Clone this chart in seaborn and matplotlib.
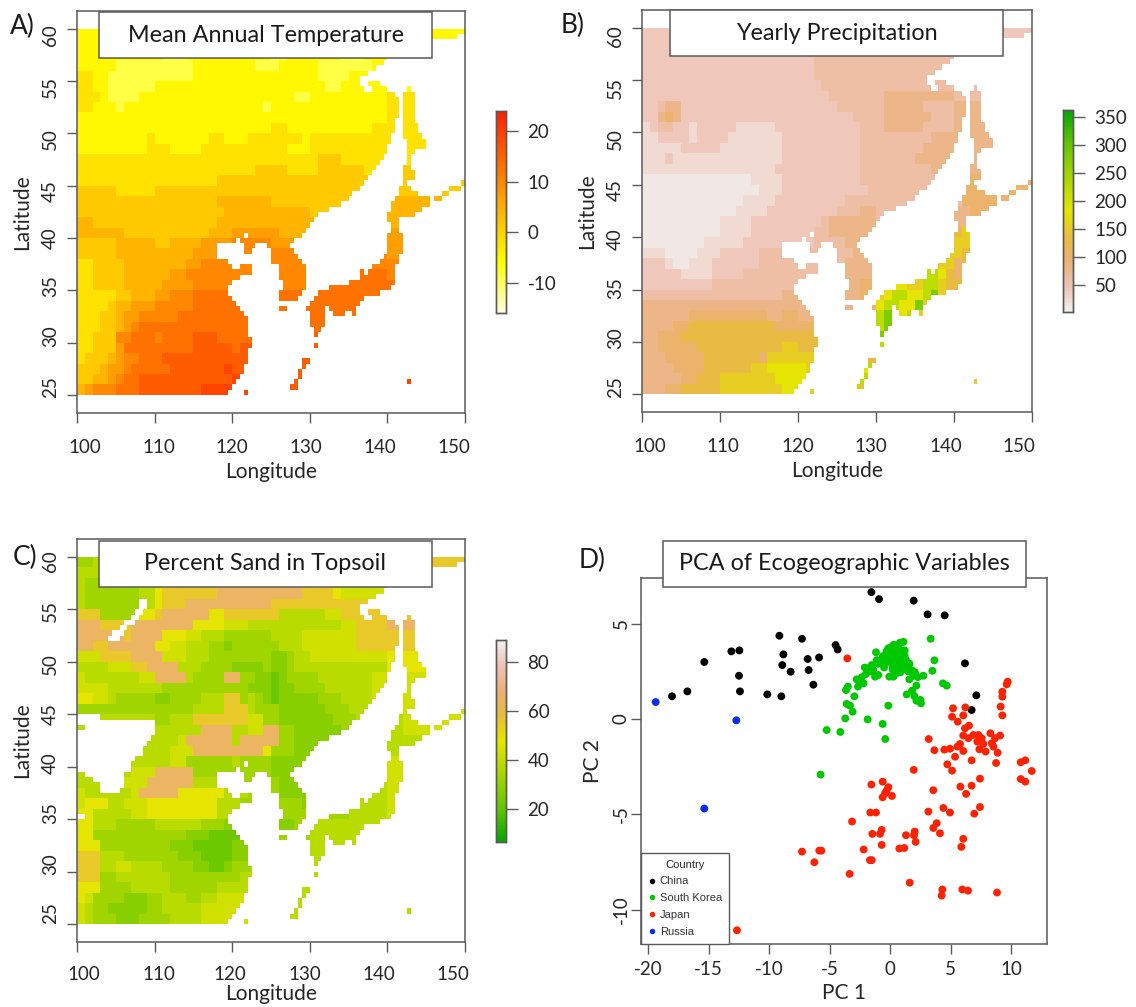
import numpy as np
import pandas as pd
import seaborn as sns
import matplotlib.pyplot as plt
from matplotlib.colors import LinearSegmentedColormap
from matplotlib.patches import Rectangle
from matplotlib.transforms import ScaledTranslation

W, H = 1136, 1007

# one string per 1 degree of latitude (59 down to 25), one char per degree of longitude (100..149)
temp_rows = """
1111111111 1111111111 1111111111 1111111111 1111111111
1111111111 0011111111 1111111111 1111111111 1111111111
1111111111 1000111111 1111100111 1111000111 1111111111
1111100000 0000011111 1110001111 1000000011 1111111111
2211000000 0000011111 1111111111 1000011111 1111111111
2211000000 1111111111 1111111111 1100111111 1111111111
2221000011 1111111111 1111111100 1111111111 2222222222
2211101111 1111111111 1111011111 1111111111 2222222222
1111111111 1111111111 1111111111 1111111111 2222222222
1111111111 1111111111 1111122111 1111111122 2222222222
1111111112 1111111221 1122222221 2222222222 2222222222
1111111112 2211112222 2222222111 2222222222 2222222222
2222222222 2222222222 2222222222 2333222222 3322222222
2222222222 2222222222 2223333222 2333333222 3333333333
2222222222 2222222233 3333333333 3333333333 3333333333
3333322222 3333333333 3333333333 3333333333 3333333333
3333333333 3333333344 4444433333 3333333333 4444444444
3333333333 3333333334 4444444444 3333333333 4444444444
4433333333 3333333344 4444444444 4444444444 4444444444
4444443333 3333333444 5555554444 4444444444 5555555555
3333344444 3344445555 6666655555 5555555555 5555555555
3333344444 4444455566 6666666666 6666666666 5555555555
2233334444 4444556666 6666666666 6666666666 6666555555
2233334444 4455666666 6666666666 6666677777 6666666666
2233334444 4555566666 6666666666 6677777777 7766666666
2222233444 5566677777 7777777777 7777777777 7777777777
2222344555 6666677777 7777777777 7777777777 8888888888
2223345566 6667777777 7777777777 7777777888 8888888888
2223345677 7777777777 7777777777 7777788888 8888888888
2233366777 6777788877 7777777777 8888888888 8888888888
2233357777 7777788888 7888888888 8888888888 8888888888
2333456677 7888888888 8888888888 8888888889 9999999999
3334556777 7788888889 8888888888 8888888899 9999999999
3344567788 8888888888 9988888888 9999999999 9999999999
4566677788 8888889999 9998888888 9999999999 9999999999
"""
temp_levels = [-9, -5, -2, 1, 4, 7, 10, 13, 16, 19]

precip_rows = """
3333333333 3333333333 4444444444 4444444444 3333333333
3333333333 3333333333 4444444444 4444444444 3333333333
3333333333 3333333333 3344444444 4444444444 4444444444
3333333333 3333333333 3344444444 4444444444 4444444444
3333333333 3333333333 3344444444 4444444444 4444444444
3333333333 3333333333 3334444444 4444444444 4444444444
3333333333 3333333333 3333444444 4555555555 4444444444
3345533333 3333333333 3333344444 4555554444 5555555555
3356533333 3333333333 3333333444 4555555444 5555555555
2344332333 3322222333 3333333344 4555554444 5555555555
2233332333 3222222233 3333333344 4444444555 5555555555
2222233333 2222222233 3333333344 4444445555 5555555555
2223222222 2222222233 3333333344 4444455555 5555555555
2222222222 2222222333 3333333344 4444444555 5555555555
1111111111 1111222233 3333333344 4444444455 6666666666
1111111111 1111122233 3333333334 4444444444 5666666666
1111111111 1112222333 3333334444 4444444444 4666666666
1111111111 1122223333 3333344455 4444444444 5566666666
1111111111 2222333333 3334555555 4444444444 5566666666
1111111111 2222333333 3344555555 5444444444 7877777777
1111111122 2223333333 3344445555 5555555555 8877777777
2221111222 3333344444 4444444555 5555555588 8777777777
3332112223 3333344444 4444445555 5555558888 6777777777
3333322223 3334444444 4444455555 666666aa97 6777777777
3333333334 4444444444 4455555566 899988aa87 7777777777
4444444444 4444444455 5555555566 89aa99ab88 8888888888
5555555555 5555555555 5555555666 9aa99b8888 8888888888
5555556666 6666665566 5555555666 abb9a88888 8888888888
5555667777 7777777666 6666666667 abb9888888 8888888888
5566677777 7777777777 7777777777 bab8888888 8888888888
5566666777 7777777788 7777777777 ab88888888 8888888888
5556666677 7777768888 8877777777 aa88888888 8888888888
5555666677 7777889999 9887777a9a 9988888888 8888888888
5555566777 8888888999 987777aaa8 9988888888 8888888888
5556677777 8888888899 98bb777a77 8888888888 8888888888
"""
precip_levels = [8, 12, 25, 42, 58, 78, 100, 130, 155, 180, 220, 280, 340]

sand_rows = """
3344444444 4444444444 4444544444 4444444444 7777777777
4444445444 5577777766 6767777766 5577555555 7777777777
4334433344 5677777777 7777777777 6655444444 7777777777
4333333344 6777777788 8888888887 7776555555 7777777777
4333333344 6777888888 8888877777 7777777777 7777777777
7773333366 7888888667 7777774444 4455777777 7777777777
8887777888 8888866665 5544444444 4444557777 8888777777
8888887888 8666554443 3333344445 5555557777 7777777777
8877888888 6655444332 3333334445 5555557777 7777777777
5557777888 8555444333 3333322344 5555555555 6666655555
4444555778 8884443333 2222322344 4444444444 6666655555
5444444455 8888433338 8332212333 3444444455 5555555555
5555444444 4333333333 3322212233 3344444455 5555555555
6655433333 2233334447 7343212222 2333444455 5555555555
3333333333 3333344447 7743332222 2233344444 5555555555
4444444444 3344477777 7755332222 2223334444 4455555555
4444444444 4444448888 4455883322 2222333444 4455555555
4444444444 4445888888 4888883322 2222334444 4444444444
4444444444 4455588888 8888633322 2222223344 4444444444
4444444444 4455333333 4333322222 2222222233 5555555555
4444444555 8888833333 3333322222 3344444444 5555555555
4444455558 8888844444 4333332222 2333333344 5555555555
5444444588 8886666664 4433332222 2333333444 5555555555
5666445556 6666666644 4333333332 3333344444 5555555555
6644444556 6666666644 4333333333 3333344444 5555555555
6644433333 4444443332 2222222233 4444444444 5555555555
6633333333 3333222111 1112223333 4444444444 4444444444
6663333333 3322211111 2222333333 4444444444 4444444444
7774443333 3332221111 2233333333 4444444444 4444444444
7774455444 4333322112 3333333333 4444444444 4444444444
7773344444 4433333333 3444444444 4444444444 4444444444
6663333444 4433333344 4444444444 4444444444 4444444444
6533332223 3444334455 5554444444 4444444444 4444444444
5433222223 3444445555 5555444444 4444444444 4444444444
5433322233 3344445555 5555544444 4444444444 4444444444
"""
sand_levels = [16, 22, 28, 33, 38, 43, 48, 55, 65, 75]

# land extent per half degree row, keyed by the row's northern latitude
land_spans = {
    60.0: [(100, 150)], 59.5: [(100, 149)], 59.0: [(100, 142)], 58.5: [(100, 141.5)],
    58.0: [(100, 141)], 57.5: [(100, 140)], 57.0: [(100, 139.5)], 56.5: [(100, 138.5)],
    56.0: [(100, 137.5)], 55.5: [(100, 136.5)], 55.0: [(100, 136.5), (137.5, 139)],
    54.5: [(100, 137), (138, 140), (142.5, 143)], 54.0: [(100, 141), (142, 143.5)],
    53.5: [(100, 141.5), (142, 143.5)], 53.0: [(100, 141.5), (142, 143.5)],
    52.5: [(100, 141.5), (142, 143.5)], 52.0: [(100, 141.5), (142, 143.5)],
    51.5: [(100, 141), (142, 143.5)], 51.0: [(100, 141), (142, 144)],
    50.5: [(100, 141), (142, 144)], 50.0: [(100, 140.5), (142, 144.5)],
    49.5: [(100, 140.5), (142.5, 145)], 49.0: [(100, 140), (142.5, 145)],
    48.5: [(100, 140), (142.5, 143.5)], 48.0: [(100, 139.5), (142.5, 143)],
    47.5: [(100, 139), (142.5, 143)], 47.0: [(100, 138.5), (142, 143)],
    46.5: [(100, 138), (142, 143.5)], 46.0: [(100, 137.5), (142, 143.5)],
    45.5: [(100, 137), (142, 142.5), (149.5, 150)],
    45.0: [(100, 136.5), (141.5, 143), (148, 149.5)],
    44.5: [(100, 135.5), (141.5, 144), (147, 148)],
    44.0: [(100, 135), (141, 145.5), (146, 147)], 43.5: [(100, 134), (140.5, 145.5)],
    43.0: [(100, 132.5), (140.5, 144.5)], 42.5: [(100, 131), (140, 143.5)],
    42.0: [(100, 130.5), (140, 141.5)], 41.5: [(100, 130), (140.5, 141.5)],
    41.0: [(100, 129.5), (140.5, 141.5)], 40.5: [(100, 121.5), (122, 129), (140, 142)],
    40.0: [(100, 120.5), (121, 128), (140, 142)],
    39.5: [(100, 118), (121.5, 123), (124.5, 127.5), (140, 142)],
    39.0: [(100, 118), (121.5, 122.5), (125, 128), (140, 142)],
    38.5: [(100, 118), (125, 128.5), (139.5, 141.5)],
    38.0: [(100, 119.5), (125, 129), (139, 141.5)],
    37.5: [(100, 120), (121, 122.5), (126, 129.5), (138, 141)],
    37.0: [(100, 122.5), (126, 129.5), (136.5, 137), (137.5, 141)],
    36.5: [(100, 121), (126, 129.5), (136.5, 141)],
    36.0: [(100, 120), (126.5, 129.5), (135, 141)],
    35.5: [(100, 119.5), (126.5, 129.5), (132.5, 140.5)],
    35.0: [(100, 119.5), (126, 129), (131, 139)],
    34.5: [(100, 120), (126, 128.5), (130.5, 137)],
    34.0: [(100, 120.5), (130, 136.5)],
    33.5: [(100, 121), (126, 127), (129.5, 132), (132.5, 136)],
    33.0: [(100, 121.5), (130, 132), (133, 134.5), (135.5, 136)],
    32.5: [(100, 122), (130, 132)], 32.0: [(100, 122), (130, 132)],
    31.5: [(100, 122), (130.5, 131.5)], 31.0: [(100, 122), (130.5, 131)],
    30.5: [(100, 122.5)], 30.0: [(100, 122.5), (130.5, 131)], 29.5: [(100, 122)],
    29.0: [(100, 122)], 28.5: [(100, 122), (129, 130)], 28.0: [(100, 121.5), (129, 129.5)],
    27.5: [(100, 121.5), (128.5, 129)], 27.0: [(100, 121), (128.5, 129)],
    26.5: [(100, 120.5), (128, 128.5), (142.5, 143)], 26.0: [(100, 120), (127.5, 128.5)],
    25.5: [(100, 119.5), (121.5, 122)],
}

# no-data patches of the soil layer (desert and lake Baikal)
sand_gaps = {
    56.0: [(108, 109)], 55.5: [(108, 109)], 55.0: [(107.5, 108.5)], 54.5: [(107, 108)],
    54.0: [(106, 107.5)], 53.5: [(105.5, 106.5)], 53.0: [(104.5, 106)], 52.5: [(104, 105.5)],
    45.0: [(100, 103)], 44.5: [(100, 110)], 44.0: [(101, 110)], 43.5: [(100, 110)],
    43.0: [(100, 109.5)], 42.5: [(100, 109)], 42.0: [(100, 108.5)], 41.5: [(100, 108.5)],
    41.0: [(100, 107.5)], 40.5: [(100, 107)], 40.0: [(100, 107)], 39.5: [(101, 106)],
    39.0: [(102, 106)], 38.5: [(103, 106)], 38.0: [(103, 105.5)], 35.5: [(100, 101)],
}

lon_ticks = [100, 110, 120, 130, 140, 150]
lat_ticks = [60, 55, 50, 45, 40, 35, 30, 25]

china_x = [-1.55, -0.92, 1.95, 3.10, 4.51, -9.16, -7.29, -4.51, -4.34, -13.13, -12.47, -8.83, -6.82, -5.88,
           -15.37, -8.92, -6.74, -8.23, -12.50, -6.35, -12.42, -10.16, -9.0, -16.77, -18.04, 6.19, 7.13, 6.74]
china_y = [6.66, 6.29, 6.21, 5.49, 5.44, 4.37, 4.21, 3.88, 3.65, 3.55, 3.60, 3.39, 3.15, 3.23,
           2.99, 2.83, 2.57, 2.48, 2.27, 1.80, 1.45, 1.29, 1.19, 1.45, 1.19, 2.92, 1.24, 0.47]

korea_x = [3.35, 3.66, 3.49, 4.37, 4.68, -3.49, -3.65, -2.96, -2.66, -2.77, -2.35, -2.0, -2.2, -1.8, -1.53,
           -1.25, -0.98, -1.17, -1.11, -1.39, -0.84, -0.42, -0.15, -0.07, 0.26, 1.37, 1.81, 2.0, 2.17, 2.55,
           2.5, 2.17, 1.59, 1.92, 2.3, 2.75, 1.4, -0.15, -3.6, -3.32, -3.1, -3.71, -1.86, -0.62, -0.4, -5.25,
           -4.12, -5.75, -2.5, -2.1, -1.6, -1.0, -0.7, -0.5, -0.3, 0.0, 0.1, 0.2, 0.3, 0.4, 0.5, 0.6, 0.7,
           0.8, 0.9, 1.0, 1.1, 1.2, 1.3, -0.6, -0.2, 0.1, 0.4, 0.7, 1.0, 1.3, 1.6, 0.0, 0.3, 0.6, 0.9, 1.2,
           -0.3, 0.2, 0.5, 0.8, 1.1, 0.45, 0.75, 1.05, 0.15, -0.1, 1.5, 1.8, 2.05, 0.5, -0.45, 0.85]
korea_y = [4.21, 3.08, 2.53, 1.87, 1.75, 1.70, 1.52, 1.19, 1.70, 2.08, 2.19, 2.36, 1.87, 2.66, 2.83,
           2.22, 2.31, 3.50, 3.09, 2.57, 2.92, 3.27, 3.71, 2.22, 2.22, 1.29, 1.49, 1.21, 0.96, 0.82,
           1.0, 1.75, 2.08, 2.26, 2.2, 2.27, 2.6, 0.70, 0.79, 0.70, 0.38, 0.03, -0.02, -0.26, -1.05, -0.58,
           -0.68, -2.92, 2.0, 2.7, 2.5, 2.9, 3.1, 2.7, 3.4, 3.6, 3.2, 2.8, 3.9, 3.5, 3.1, 3.8, 3.4,
           4.0, 3.6, 3.2, 4.05, 3.6, 3.1, 3.3, 3.0, 3.4, 2.9, 3.0, 3.0, 2.85, 2.9, 3.75, 3.7, 3.6, 3.3, 3.3,
           3.55, 2.6, 2.6, 2.7, 2.6, 3.3, 3.25, 3.4, 3.0, 3.3, 2.5, 2.55, 2.45, 2.4, 2.95, 2.45]

japan_x = [-3.54, 9.72, 9.64, 9.28, 9.28, 9.14, 9.28, 5.2, 6.22, 5.12, 6.05, 5.59, 6.52, 6.19, 6.05, 6.47, 6.88,
           7.3, 7.57, 7.21, 8.29, 9.09, 8.67, 8.4, 8.54, 7.71, 7.38, 7.9, 8.89, 8.76, 5.78, 5.56, 6.05,
           4.95, 4.48, 5.37, 4.73, 5.12, 6.74, 3.19, 3.66, 1.95, 10.8, 11.18, 11.71, 10.8, 11.18, 7.43,
           6.74, 5.81, 6.28, 3.57, -1.55, -0.62, -0.15, -0.29, -0.42, -0.62, 0.15, -3.15, -1.64, -1.17,
           3.16, 4.4, 4.95, 6.96, 7.43, 3.85, 3.57, 4.12, -0.7, -0.84, -1.47, 1.31, 2.03, 1.97, 2.11,
           6.05, 5.89, -0.7, 0.76, 1.17, -2.19, -7.29, -5.86, -5.69, -6.27, -1.67, -1.53, -3.35, 1.62,
           4.32, 4.26, 5.97, 6.44, 8.84, -12.67]
japan_y = [3.18, 1.96, 1.82, 1.43, 1.17, 0.65, 0.19, 0.56, 0.61, 0.12, 0.19, -0.14, -0.35, -0.49, -0.87, -1.01, -0.84,
           -0.84, -1.01, -1.19, -0.75, -0.87, -1.01, -1.28, -1.45, -1.31, -1.59, -1.71, -1.77, -2.31, -1.31, -1.45, -1.68,
           -1.56, -1.61, -1.98, -2.38, -2.71, -2.17, -1.05, -1.64, -2.67, -2.27, -2.17, -2.73, -3.15, -3.29, -3.13,
           -3.5, -3.55, -3.93, -3.74, -3.44, -3.29, -3.58, -3.76, -3.9, -4.11, -4.04, -5.38, -4.91, -4.91,
           -4.86, -4.67, -4.91, -4.97, -4.62, -5.47, -5.72, -6.0, -5.82, -6.03, -6.03, -6.1, -5.91, -6.1, -6.45,
           -6.29, -6.71, -6.61, -6.8, -6.77, -6.85, -6.96, -6.91, -6.91, -7.52, -7.41, -7.41, -8.13, -8.59,
           -8.95, -9.27, -8.95, -9.01, -9.11, -11.09]

russia_x = [-19.39, -12.72, -15.37]
russia_y = [0.89, -0.07, -4.70]

pc_x_ticks = [-20, -15, -10, -5, 0, 5, 10]
pc_y_ticks = [-10, -5, 0, 5]
countries = ['China', 'South Korea', 'Japan', 'Russia']
country_colors = ['#000000', '#00C800', '#FF2200', '#0A2CF0']

heat = LinearSegmentedColormap.from_list('heat', [(0, '#FFFFE0'), (0.25, '#FFFF00'), (1, '#FF2000')])
terrain_nodes = [(0, '#00A600'), (1/6, '#63C600'), (1/3, '#A6D600'), (1/2, '#E6E600'),
                 (5/8, '#E9BD3A'), (3/4, '#ECB176'), (7/8, '#EFC2B3'), (1, '#F2F2F2')]
terrain = LinearSegmentedColormap.from_list('terrain_r', terrain_nodes)
terrain_rev = terrain.reversed()

sns.set_style('white')
plt.rcParams['font.family'] = ['Lato', 'DejaVu Sans']
DARK = '#262626'
LINE = '#5a5a5a'

fig = plt.figure(figsize=(W / 100, H / 100), dpi=100)


def px_axes(left, top, right, bottom):
    return fig.add_axes([left / W, 1 - bottom / H, (right - left) / W, (bottom - top) / H])


def parse_rows(rows, levels):
    grid = np.array([[levels[int(c, 36)] for c in r.replace(' ', '')] for r in rows.split('\n') if r.strip()], dtype=float)
    return np.repeat(np.repeat(grid, 2, axis=0), 2, axis=1)


def span_mask(spans):
    lats = np.arange(60, 25, -0.5)
    lons = np.arange(100, 150, 0.5)
    on = np.zeros((len(lats), len(lons)), dtype=bool)
    for i, lat in enumerate(lats):
        for a, b in spans.get(float(lat), []):
            on[i, (lons >= a) & (lons < b)] = True
    return on


def style_axes(ax, xpad=12, ypad=6):
    for s in ax.spines.values():
        s.set_visible(True)
        s.set_color(LINE)
        s.set_linewidth(1.1)
    ax.tick_params(left=True, bottom=True, length=7, width=1, color=LINE, labelcolor=DARK, labelsize=13.5)
    ax.tick_params(axis='x', pad=xpad)
    ax.tick_params(axis='y', pad=ypad)


def nudge(labels, dx, dy):
    # the exported tick labels sit a few pixels off their ticks
    for lab, a, b in zip(labels, dx, dy):
        lab.set_transform(lab.get_transform() + ScaledTranslation(a / 100, -b / 100, fig.dpi_scale_trans))


def draw_map(box, cbar_box, rows, levels, cmap, vmin, vmax, cbar_ticks, x_off, y_off, xpad=12, xlabelpad=4, gaps=None):
    ax = px_axes(*box)
    cax = px_axes(*cbar_box)
    mask = ~span_mask(land_spans)
    if gaps:
        mask = mask | span_mask(gaps)
    df = pd.DataFrame(parse_rows(rows, levels))
    sns.heatmap(df, mask=mask, cmap=cmap, vmin=vmin, vmax=vmax, ax=ax, cbar_ax=cax,
                xticklabels=False, yticklabels=False)
    ax.set_xlim(0, 100)
    ax.set_ylim((60 - 23.3) * 2, (60 - 61.7) * 2)
    ax.set_xticks([(v - 100) * 2 for v in lon_ticks], labels=lon_ticks)
    ax.set_yticks([(60 - v) * 2 for v in lat_ticks], labels=lat_ticks)
    style_axes(ax, xpad=xpad)
    plt.setp(ax.get_yticklabels(), rotation=90, va='center')
    nudge(ax.get_xticklabels(), x_off, [0] * 6)
    nudge(ax.get_yticklabels(), [0] * 8, y_off)
    ax.set_xlabel('Longitude', fontsize=15, color=DARK, labelpad=xlabelpad)
    ax.set_ylabel('Latitude', fontsize=15, color=DARK, labelpad=7)
    cax.set_yticks(cbar_ticks, labels=cbar_ticks)
    cax.tick_params(left=False, right=True, length=8.5, width=1, color=LINE, labelcolor=DARK, labelsize=13.5, pad=7)
    for s in cax.spines.values():
        s.set_visible(True)
        s.set_color(LINE)
        s.set_linewidth(1)
    return ax


def title_box(left, top, right, bottom, text):
    fig.add_artist(Rectangle((left / W, 1 - bottom / H), (right - left) / W, (bottom - top) / H,
                             transform=fig.transFigure, fc='white', ec=LINE, lw=1.1, zorder=5))
    fig.text((left + right) / 2 / W, 1 - (top + bottom) / 2 / H, text, ha='center', va='center',
             fontsize=16.8, color='#1a1a1a', zorder=6)


draw_map((77, 11, 465, 412.7), (496, 111, 506, 313), temp_rows, temp_levels, heat, -16, 24, [-10, 0, 10, 20],
         [8, 4, 0, -4, -8, -11], [6, 6, 6, 5, 0, -4, -6, -8])
draw_map((642, 10, 1032, 412), (1063, 110, 1073, 312), precip_rows, precip_levels, terrain_rev, 2, 362,
         [50, 100, 150, 200, 250, 300, 350],
         [8, 3, 0, -5, -8, -13], [8, 8, 7, 5, 2, -1, -4, -7])
draw_map((77, 539, 465, 942), (496, 640, 506, 842), sand_rows, sand_levels, terrain, 6.5, 89, [20, 40, 60, 80],
         [7, 4, -2, -5, -9, -12], [4, 2, 2, 0, -4, -6, -8, -11], xpad=10, xlabelpad=1, gaps=sand_gaps)

# panel D
pca = pd.DataFrame({
    'pc1': china_x + korea_x + japan_x + russia_x,
    'pc2': china_y + korea_y + japan_y + russia_y,
    'Country': (['China'] * len(china_x) + ['South Korea'] * len(korea_x)
                + ['Japan'] * len(japan_x) + ['Russia'] * len(russia_x)),
})
ax = px_axes(640.7, 578, 1046.7, 944)
sns.scatterplot(data=pca, x='pc1', y='pc2', hue='Country', hue_order=countries, palette=country_colors,
                s=32, linewidth=0, ax=ax)
ax.set_xlim(-20.63, 12.95)
ax.set_ylim(-11.81, 7.40)
ax.set_xticks(pc_x_ticks, labels=pc_x_ticks)
ax.set_yticks(pc_y_ticks, labels=pc_y_ticks)
style_axes(ax, xpad=5, ypad=1)
plt.setp(ax.get_yticklabels(), rotation=90, va='center')
ax.set_xlabel('PC 1', fontsize=15, color=DARK, labelpad=4)
ax.set_ylabel('PC 2', fontsize=15, color=DARK, labelpad=7)
leg = ax.legend(title='Country', loc='lower left', bbox_to_anchor=(0, 0), borderaxespad=0, fancybox=False,
                edgecolor=LINE, framealpha=1, markerscale=0.7, handlelength=0.8, handletextpad=0.3,
                labelspacing=0.62, borderpad=0.62, prop={'family': 'Liberation Sans', 'size': 8})
leg.get_title().set_fontfamily('Liberation Sans')
leg.get_title().set_fontsize(8)
leg.get_frame().set_linewidth(1)
leg.set_zorder(10)
for t in leg.get_texts():
    t.set_color('#333333')

title_box(99, 12, 432, 58, 'Mean Annual Temperature')
title_box(670, 10, 1003, 56, 'Yearly Precipitation')
title_box(99, 541, 432, 587, 'Percent Sand in Topsoil')
title_box(662.5, 541, 1026, 587, 'PCA of Ecogeographic Variables')

for x, y, s in [(10, 26, 'A)'), (561, 25, 'B)'), (13, 557, 'C)'), (579, 560, 'D)')]:
    fig.text(x / W, 1 - y / H, s, fontsize=19, color='#1a1a1a', va='center', ha='left')

fig.savefig('out.png', dpi=100)
